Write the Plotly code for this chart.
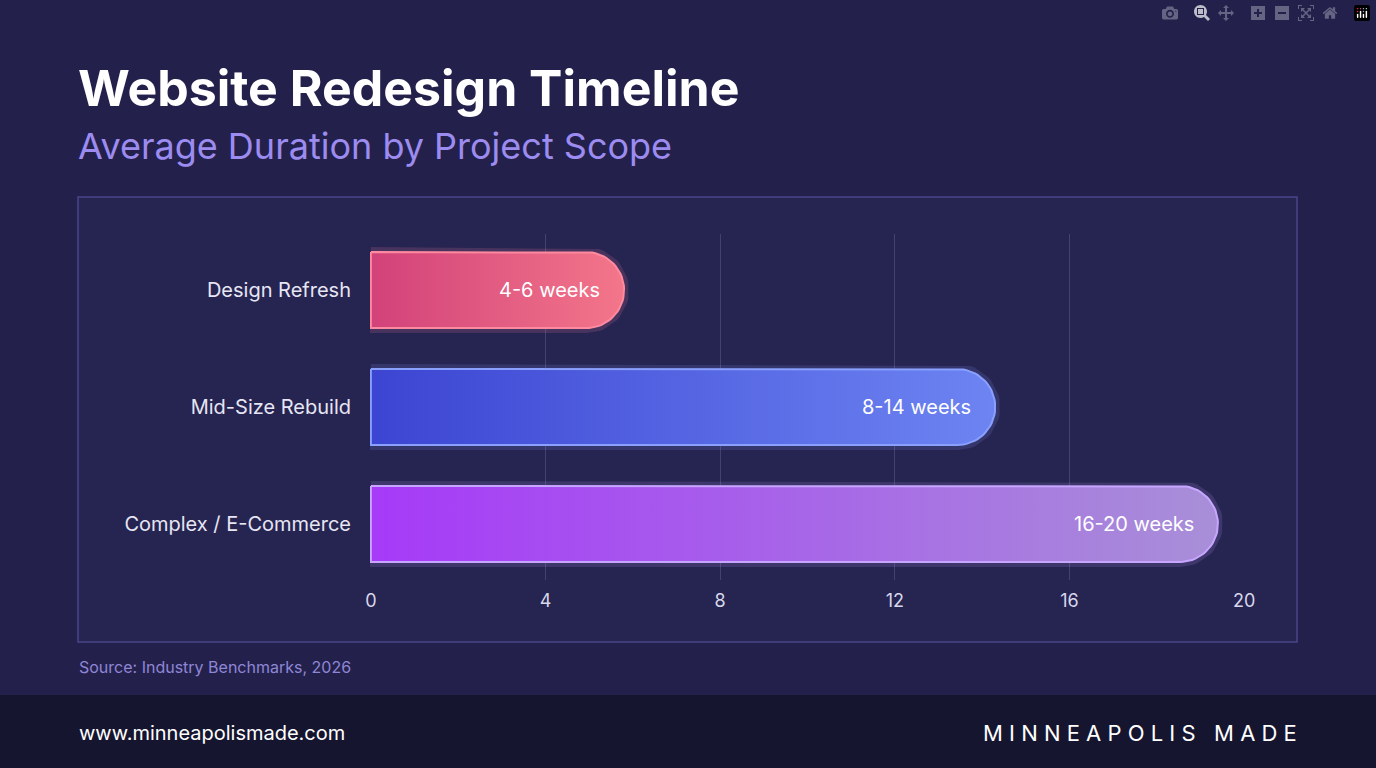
import plotly.graph_objects as go
import numpy as np

categories = ["Design Refresh", "Mid-Size Rebuild", "Complex / E-Commerce"]
values = [5.8, 14.3, 19.4]
labels = ["4-6 weeks", "8-14 weeks", "16-20 weeks"]
tick_vals = [0, 4, 8, 12, 16, 20]

grad = [("#d2427a", "#f3768a", "#ff8aa0"),
        ("#3c45d2", "#6d84f2", "#8aa0ff"),
        ("#a63af8", "#a88fd8", "#c7a6ff")]

W, H = 1376, 768
L, R, T, B = 370, 131, 234, 188
px_x = (W - L - R) / 20.0
px_y = (H - T - B) / 2.96
half_h_px = 38
hh = half_h_px / px_y
rx = half_h_px / px_x

fig = go.Figure()
for i, (c, v, lab) in enumerate(zip(categories, values, labels)):
    th = np.linspace(np.pi / 2, -np.pi / 2, 40)
    cx = v - rx
    xs = [0] + list(cx + rx * np.cos(th)) + [0, 0]
    ys = [i - hh] + list(i - hh * np.sin(th)) + [i + hh, i - hh]
    c0, c1, edge = grad[i]
    fig.add_trace(go.Scatter(x=xs, y=ys, mode="lines", line=dict(color=edge, width=10),
                             opacity=0.15, hoverinfo="skip", showlegend=False))
    fig.add_trace(go.Scatter(x=xs, y=ys, fill="toself", mode="lines",
                             line=dict(color=edge, width=2),
                             fillgradient=dict(type="horizontal",
                                               colorscale=[[0, c0], [1, c1]]),
                             hoverinfo="skip", showlegend=False))
    fig.add_annotation(x=v - 0.5, y=i, text=lab, xanchor="right", showarrow=False,
                       font=dict(family="Inter", size=20, color="#ffffff"))

fig.update_xaxes(range=[-0.02, 20.02], tickvals=tick_vals, showgrid=True,
                 gridcolor="rgba(140,140,200,0.28)", zeroline=False, showline=False,
                 tickfont=dict(family="Inter", size=18, color="#d8d8ec"), ticklabelstandoff=8)
fig.update_yaxes(range=[2.48, -0.48], tickvals=[0, 1, 2], ticktext=categories,
                 showgrid=False, zeroline=False, ticklabelstandoff=18,
                 tickfont=dict(family="Inter", size=20, color="#e6e6f4"))

fig.update_layout(
    width=W, height=H, margin=dict(l=L, r=R, t=T, b=B),
    paper_bgcolor="#23214c", plot_bgcolor="rgba(0,0,0,0)",
    shapes=[
        dict(type="rect", xref="paper", yref="paper",
             x0=(78 - L) / (W - L - R), x1=(1297 - L) / (W - L - R),
             y0=(H - B - 642) / (H - T - B), y1=(H - B - 197) / (H - T - B),
             fillcolor="rgba(40,38,85,0.6)", line=dict(color="rgba(120,110,210,0.45)", width=1.5),
             layer="below"),
        dict(type="rect", xref="paper", yref="paper",
             x0=-L / (W - L - R), x1=(W - L) / (W - L - R),
             y0=-B / (H - T - B), y1=(H - B - 695) / (H - T - B),
             fillcolor="#16152f", line_width=0, layer="below"),
    ],
)

def ann(x, y, text, size, color, weight="normal", xanchor="left", family="Inter"):
    fig.add_annotation(xref="paper", yref="paper", x=(x - L) / (W - L - R),
                       y=(H - B - y) / (H - T - B), text=text, showarrow=False,
                       xanchor=xanchor, yanchor="middle",
                       font=dict(family=family, size=size, color=color, weight=weight))

ann(76, 88, "Website Redesign Timeline", 50, "#ffffff", weight="bold")
ann(76, 146, "Average Duration by Project Scope", 36, "#9d8cf0")
ann(77, 667, "Source: Industry Benchmarks, 2026", 16, "#8f86d6")
ann(77, 733, "www.minneapolismade.com", 20, "#ffffff")
ann(1299, 733, "M I N N E A P O L I S   M A D E", 22, "#ffffff", xanchor="right")

fig.write_html("out.html",
               post_script="document.body.style.margin='0';document.body.style.background='#23214c';document.body.style.overflow='hidden';")
